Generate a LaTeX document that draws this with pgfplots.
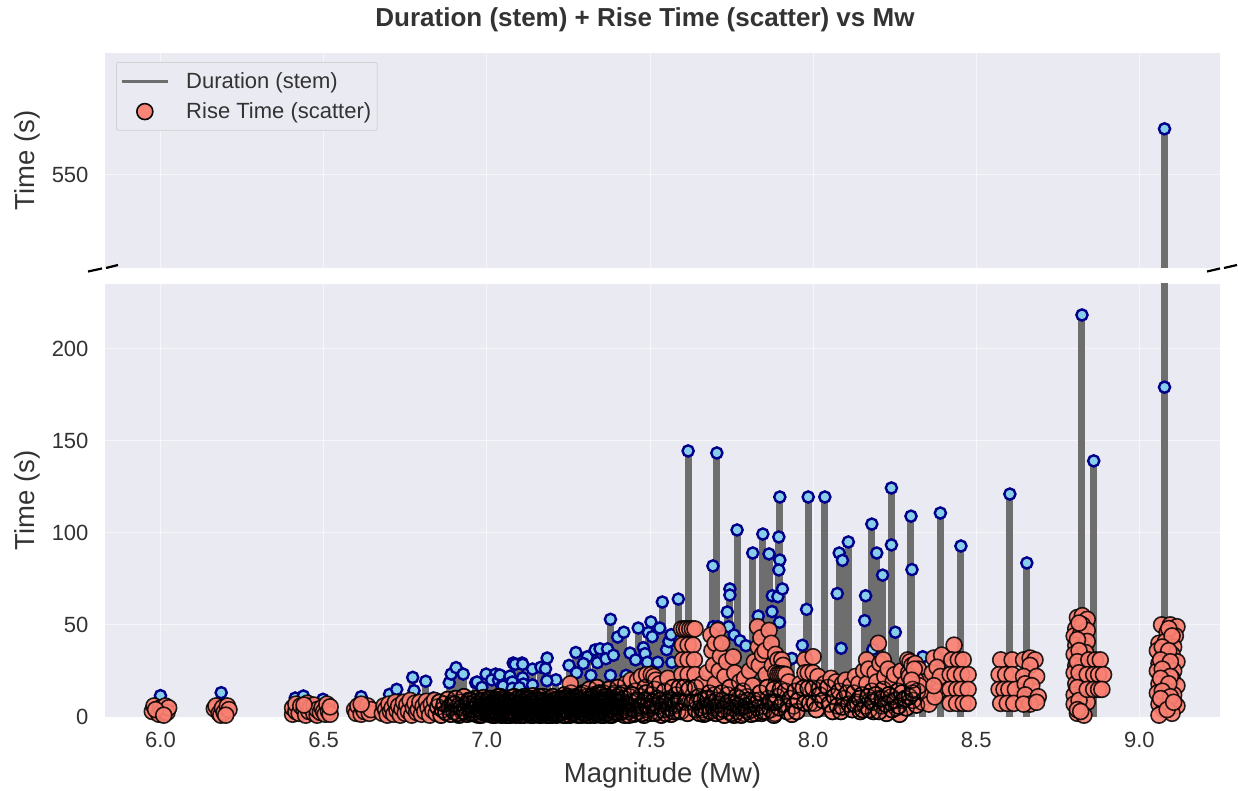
\documentclass[border=0pt]{standalone}
\usepackage{pgfplots}
\pgfplotsset{compat=1.18}
\usepackage{pgfplotstable}
\usepackage{fontspec}
\setmainfont{Liberation Sans}
\definecolor{bgc}{HTML}{EAEAF2}
\definecolor{stemc}{HTML}{6E6E6E}
\definecolor{salm}{HTML}{FA8072}
\definecolor{skyb}{HTML}{87CEEB}
\definecolor{navyb}{HTML}{00008B}
\definecolor{txt}{HTML}{333333}

\pgfplotstableread[row sep=\\]{
x y\\
6.0 11.6\\ 6.186 13.2\\ 6.413 10.3\\ 6.438 11.4\\ 6.498 9.6\\ 6.615 11\\ 6.702 12.3\\ 6.724 15\\ 6.773 21.5\\ 6.777 14.3\\ 6.813 19.4\\ 6.836 10.3\\
6.885 18.6\\ 6.891 23.3\\ 6.906 26.8\\ 6.928 23.3\\ 6.966 18.6\\ 6.97 19\\ 6.985 16.1\\ 6.998 23.3\\ 7.027 23.3\\ 7.015 20.1\\ 7.036 20\\ 7.04 22.8\\ 7.046 16.8\\ 7.05 16.8\\
7.081 29.3\\ 7.108 29.3\\ 7.14 26\\ 7.087 28.6\\ 7.11 28.6\\ 7.11 21.3\\ 7.112 17.9\\ 7.071 22.2\\ 7.078 19\\ 7.078 15.6\\ 7.1 16\\ 7.14 17.4\\
7.212 20.2\\ 7.184 19.7\\ 7.185 32\\ 7.166 27\\ 7.18 26.2\\ 7.252 28\\ 7.273 35\\ 7.275 24\\ 7.308 32.7\\ 7.296 29\\ 7.319 22.6\\ 7.332 36.4\\ 7.339 29.5\\ 7.347 37\\ 7.37 37\\ 7.365 31.6\\ 7.388 33.5\\ 7.379 22.6\\ 7.379 53\\ 7.401 43.4\\ 7.42 46\\ 7.427 22.6\\
7.439 34.7\\ 7.456 31\\ 7.464 48.3\\ 7.48 37.6\\ 7.485 34.4\\ 7.492 29.7\\ 7.495 45.8\\ 7.503 51.6\\ 7.507 43.6\\ 7.524 29.7\\ 7.53 48.3\\ 7.538 62.4\\ 7.551 36.5\\ 7.558 40.9\\ 7.565 44.7\\ 7.567 29.7\\ 7.587 64\\
7.617 144.4\\ 7.705 143.3\\ 7.693 82\\ 7.694 49\\ 7.708 49\\ 7.737 57\\ 7.741 49\\ 7.745 69.5\\ 7.745 66.2\\ 7.758 44.5\\ 7.767 101.5\\ 7.776 41.4\\ 7.794 38.7\\ 7.815 89\\ 7.832 54.8\\ 7.846 99.3\\ 7.865 88.5\\ 7.874 57.2\\ 7.875 65.8\\ 7.892 65.3\\ 7.895 97.7\\ 7.898 119.4\\ 7.898 85.2\\ 7.895 79.8\\ 7.906 69.5\\ 7.897 51.4\\ 7.929 31.3\\ 7.935 31.8\\
7.967 38.9\\ 7.98 58.4\\ 7.985 119.4\\ 8.036 119.4\\ 8.074 67\\ 8.08 89\\ 8.086 37.3\\ 8.09 85\\ 8.108 95\\ 8.158 52.3\\ 8.161 65.8\\ 8.18 104.7\\ 8.183 36.7\\ 8.195 89\\ 8.213 77\\ 8.24 124.3\\ 8.24 93.4\\ 8.252 46\\ 8.30 109\\ 8.303 80\\ 8.336 32.7\\ 8.39 110.7\\ 8.453 92.8\\ 8.603 121\\ 8.655 83.6\\ 8.824 218.2\\ 8.86 139\\ 9.077 179\\ 9.077 574\\
}\durtable

\pgfplotstableread[row sep=\\]{
x y\\
5.975 3\\ 5.98 6\\ 5.995 1.5\\ 6.0 5\\ 6.005 3\\ 6.015 6\\ 6.02 2.5\\ 6.025 5\\ 5.985 4\\ 6.01 1\\
6.165 4.5\\ 6.17 6\\ 6.18 2\\ 6.185 1\\ 6.19 5\\ 6.195 2.5\\ 6.205 6\\ 6.21 4\\ 6.2 1\\
6.405 1.5\\ 6.405 5\\ 6.415 3\\ 6.415 7\\ 6.425 2\\ 6.43 6\\ 6.44 4\\ 6.445 1\\ 6.45 7.5\\ 6.455 3\\ 6.46 5.5\\ 6.47 2\\ 6.47 6.5\\ 6.48 1\\ 6.48 4\\ 6.49 2.5\\ 6.495 5\\ 6.50 3\\ 6.505 1.5\\ 6.51 7\\ 6.515 3\\ 6.52 1.5\\ 6.52 5.5\\ 6.44 6.5\\
6.595 4\\ 6.6 2\\ 6.605 6\\ 6.615 1.5\\ 6.62 5\\ 6.625 3\\ 6.635 6\\ 6.64 2\\ 6.645 4\\ 6.615 7\\
6.68 2\\ 6.685 6\\ 6.69 4\\ 6.695 1\\ 6.70 7\\ 6.705 3\\ 6.71 5\\ 6.715 1.5\\ 6.72 8\\ 6.725 3.5\\ 6.73 6\\ 6.735 1\\ 6.74 4.5\\ 6.745 8\\ 6.75 2\\ 6.755 6.5\\ 6.76 3\\ 6.765 9\\ 6.77 1\\ 6.775 5\\ 6.78 7.5\\ 6.785 2.5\\ 6.79 4\\ 6.795 8\\ 6.80 1.5\\ 6.805 6\\ 6.81 3\\ 6.815 8.5\\ 6.82 5\\ 6.825 1\\ 6.83 7\\ 6.835 3.5\\ 6.84 9\\ 6.845 2\\ 6.85 5.5\\ 6.855 8\\ 6.86 1\\ 6.865 4\\ 6.87 7\\ 6.875 2.5\\ 6.88 9.5\\ 6.885 5\\ 6.89 1.5\\ 6.895 7.5\\ 6.90 3\\ 6.905 10\\ 6.91 5.5\\ 6.915 1\\ 6.92 8\\ 6.925 3\\ 6.93 11\\ 6.935 6\\ 6.94 1.5\\ 6.945 9\\ 6.95 4\\ 6.955 7\\ 6.96 2\\ 6.965 10\\ 6.97 5\\ 6.975 1\\ 6.98 8\\ 6.985 3\\ 6.99 10.5\\ 6.995 6\\
6.902 7\\ 6.912 2\\ 6.922 5\\ 6.932 3\\ 6.942 7\\ 6.952 2\\ 6.962 6\\ 6.972 3\\ 6.982 6\\ 6.992 2\\
6.952 9\\ 6.957 4\\ 6.963 8\\ 6.968 1.5\\ 6.973 7\\ 6.978 4\\ 6.983 1\\ 6.988 9\\ 6.993 5\\ 6.998 8\\
7.002 2\\ 7.006 7\\ 7.01 4\\ 7.014 10\\ 7.018 1\\ 7.022 6\\ 7.026 3\\ 7.03 9\\ 7.034 5\\ 7.038 1.5\\ 7.042 11\\ 7.046 3.5\\ 7.05 7\\ 7.054 2\\ 7.058 9.5\\ 7.062 5\\ 7.066 1\\ 7.07 8\\ 7.074 3\\ 7.078 10.5\\ 7.082 6\\ 7.086 2\\ 7.09 9\\ 7.094 4\\ 7.098 7.5\\
7.004 5\\ 7.012 8\\ 7.02 2.5\\ 7.028 6\\ 7.036 11\\ 7.044 1\\ 7.052 4.5\\ 7.06 8\\ 7.068 3\\ 7.076 6\\ 7.084 11\\ 7.092 1.5\\ 7.1 5\\
7.003 9\\ 7.009 1.5\\ 7.016 6.5\\ 7.024 9.5\\ 7.031 3\\ 7.039 7\\ 7.047 9\\ 7.055 5\\ 7.063 2.5\\ 7.071 5.5\\ 7.079 1.5\\ 7.087 8\\ 7.095 10\\
7.005 3\\ 7.008 10\\ 7.013 2\\ 7.017 7\\ 7.021 4\\ 7.025 1\\ 7.029 8\\ 7.033 2\\ 7.037 5\\ 7.041 8\\ 7.045 2\\ 7.049 10\\ 7.053 6\\ 7.057 1\\ 7.061 3.5\\ 7.065 9\\ 7.069 6\\ 7.073 1\\ 7.077 8\\ 7.081 3\\ 7.085 5\\ 7.089 1\\ 7.093 7\\ 7.097 3\\
7.102 1\\ 7.106 8\\ 7.11 3.5\\ 7.114 11\\ 7.118 6\\ 7.122 2\\ 7.126 9\\ 7.13 4.5\\ 7.134 1\\ 7.138 7\\ 7.142 11.5\\ 7.146 3\\ 7.15 6\\ 7.154 1.5\\ 7.158 9\\ 7.162 4\\ 7.166 7.5\\ 7.17 2\\ 7.174 11\\ 7.178 5\\ 7.182 1\\ 7.186 8\\ 7.19 3\\ 7.194 10\\ 7.198 6\\
7.104 5\\ 7.112 1.5\\ 7.12 9\\ 7.128 3\\ 7.136 5.5\\ 7.144 8\\ 7.152 2\\ 7.16 11\\ 7.168 4\\ 7.176 8\\ 7.184 2.5\\ 7.192 6\\ 7.2 1\\
7.101 7\\ 7.108 10\\ 7.116 3\\ 7.124 6\\ 7.132 10\\ 7.14 2\\ 7.148 10\\ 7.156 5\\ 7.164 1\\ 7.172 6\\ 7.18 9\\ 7.188 4\\ 7.196 2\\
7.103 3\\ 7.107 5\\ 7.111 8\\ 7.115 1\\ 7.119 4\\ 7.123 10\\ 7.127 6\\ 7.131 2\\ 7.135 8\\ 7.139 4\\ 7.143 1\\ 7.147 7\\ 7.151 9\\ 7.155 3\\ 7.159 6\\ 7.163 1\\ 7.167 3\\ 7.171 9\\ 7.175 5\\ 7.179 2\\ 7.183 7\\ 7.187 3\\ 7.191 1\\ 7.195 8\\ 7.199 4\\
7.202 11\\ 7.206 3\\ 7.21 7\\ 7.214 1\\ 7.218 5\\ 7.222 10\\ 7.226 2.5\\ 7.23 8\\ 7.234 4\\ 7.238 12\\ 7.242 1\\ 7.246 6\\ 7.25 3\\ 7.254 9\\ 7.258 13\\ 7.262 2\\ 7.266 5\\ 7.27 8\\ 7.274 1.5\\ 7.278 11\\ 7.282 4\\ 7.286 7\\ 7.29 1\\ 7.294 13\\ 7.298 5.5\\
7.204 5\\ 7.212 9\\ 7.22 1.5\\ 7.228 6\\ 7.236 3\\ 7.244 9\\ 7.252 1.5\\ 7.26 7\\ 7.268 11\\ 7.276 4\\ 7.284 9\\ 7.292 3\\ 7.3 7\\ 7.256 18\\
7.208 7\\ 7.216 2\\ 7.224 6\\ 7.232 10\\ 7.24 4\\ 7.248 11\\ 7.256 5\\ 7.264 9\\ 7.272 3\\ 7.28 6\\ 7.288 12\\ 7.296 8\\
7.203 2\\ 7.207 9\\ 7.211 4\\ 7.215 7\\ 7.219 2\\ 7.223 6\\ 7.227 9\\ 7.231 3\\ 7.235 1\\ 7.239 7\\ 7.243 10\\ 7.247 4\\ 7.251 7\\ 7.255 1\\ 7.259 4\\ 7.263 10\\ 7.267 2\\ 7.271 6\\ 7.275 10\\ 7.279 1\\ 7.283 7\\ 7.287 3\\ 7.291 9\\ 7.295 5\\ 7.299 2\\
7.302 2\\ 7.306 11\\ 7.31 5\\ 7.314 15\\ 7.318 1\\ 7.322 8\\ 7.326 12\\ 7.33 3\\ 7.334 6\\ 7.338 16\\ 7.342 1.5\\ 7.346 10\\ 7.35 4\\ 7.354 7\\ 7.358 13\\ 7.362 2\\ 7.366 5.5\\ 7.37 9\\ 7.374 15\\ 7.378 1\\ 7.382 7\\ 7.386 12\\ 7.39 3\\ 7.394 9\\ 7.398 5\\
7.304 7\\ 7.312 3\\ 7.32 11\\ 7.328 6\\ 7.336 2\\ 7.344 13\\ 7.352 8\\ 7.36 1\\ 7.368 11\\ 7.376 4\\ 7.384 2\\ 7.392 13\\ 7.4 6\\
7.308 9\\ 7.316 5\\ 7.324 2\\ 7.332 9\\ 7.34 4\\ 7.348 7\\ 7.356 3\\ 7.364 9\\ 7.372 6\\ 7.38 4\\ 7.388 10\\ 7.396 2\\
7.303 5\\ 7.307 1\\ 7.311 8\\ 7.315 3\\ 7.319 6\\ 7.323 10\\ 7.327 4\\ 7.331 1\\ 7.335 9\\ 7.339 6\\ 7.343 3\\ 7.347 12\\ 7.351 1\\ 7.355 9\\ 7.359 5\\ 7.363 11\\ 7.367 2\\ 7.371 7\\ 7.375 4\\ 7.379 10\\ 7.383 1\\ 7.387 6\\ 7.391 8\\ 7.395 3\\ 7.399 11\\
7.402 16\\ 7.406 2\\ 7.41 9\\ 7.414 5\\ 7.418 13\\ 7.422 1\\ 7.426 18\\ 7.43 7\\ 7.434 3\\ 7.438 11\\ 7.442 20\\ 7.446 5\\ 7.45 1.5\\ 7.454 14\\ 7.458 8\\ 7.462 20\\ 7.466 3\\ 7.47 11\\ 7.474 22\\ 7.478 6\\ 7.482 1\\ 7.486 16\\ 7.49 23\\ 7.494 4\\ 7.498 9\\
7.408 12\\ 7.424 4\\ 7.44 8\\ 7.456 2\\ 7.472 5\\ 7.488 13\\ 7.504 23\\ 7.512 22\\ 7.518 20\\ 7.5 2\\ 7.506 12\\ 7.51 6\\ 7.515 15\\ 7.52 3\\ 7.525 10\\ 7.53 18\\ 7.535 1\\ 7.54 7\\ 7.545 14\\ 7.55 4\\ 7.555 21\\ 7.56 10\\ 7.565 1.5\\ 7.57 16\\ 7.575 6\\ 7.58 12\\ 7.585 3\\
7.404 8\\ 7.412 3\\ 7.42 10\\ 7.428 6\\ 7.436 1\\ 7.444 12\\ 7.452 4\\ 7.46 9\\ 7.468 6\\ 7.476 2\\ 7.484 9\\ 7.492 6\\ 7.502 5\\ 7.508 8\\ 7.516 2\\ 7.524 6\\ 7.532 9\\ 7.538 4\\ 7.548 2\\ 7.552 8\\ 7.558 5\\ 7.568 9\\ 7.572 3\\ 7.578 7\\ 7.588 9\\
7.597 47.8\\ 7.605 47.8\\ 7.613 47.8\\ 7.622 47.8\\ 7.63 47.8\\ 7.638 47.8\\ 7.6 39\\ 7.617 39\\ 7.632 39\\ 7.6 31\\ 7.617 31\\ 7.636 31\\ 7.598 23\\ 7.617 23\\ 7.638 23\\ 7.59 16\\ 7.605 16\\ 7.62 15\\ 7.64 16\\ 7.592 8\\ 7.61 8\\ 7.63 8\\ 7.595 3\\ 7.615 2\\ 7.64 4\\ 7.65 11\\ 7.655 5\\ 7.66 18\\ 7.665 1.5\\ 7.67 10\\ 7.675 24\\ 7.68 6\\
7.645 8\\ 7.652 2\\ 7.658 9\\ 7.662 4\\ 7.668 6\\ 7.672 2\\ 7.678 10\\ 7.682 13\\ 7.685 3\\ 7.69 8\\ 7.695 5\\ 7.698 12\\ 7.702 2\\ 7.71 7\\ 7.714 3\\ 7.722 9\\ 7.728 1\\ 7.732 6\\ 7.738 12\\ 7.742 3\\ 7.748 8\\ 7.752 5\\ 7.758 1\\ 7.762 7\\ 7.768 3\\ 7.772 10\\ 7.778 5\\ 7.782 8\\ 7.788 2\\ 7.792 6\\ 7.798 11\\ 7.802 3\\ 7.808 7\\ 7.812 4\\ 7.818 9\\ 7.822 2\\ 7.828 5\\ 7.834 9\\ 7.842 2\\ 7.85 6\\ 7.858 3\\ 7.862 10\\ 7.87 4\\ 7.878 8\\ 7.882 2\\
7.687 44.5\\ 7.69 36\\ 7.695 28\\ 7.7 40\\ 7.7 18\\ 7.705 9\\ 7.708 47\\ 7.712 25\\ 7.716 33\\ 7.72 40\\ 7.72 13\\ 7.725 4\\ 7.73 22\\ 7.735 30\\ 7.74 8\\ 7.745 16\\ 7.75 2\\ 7.755 32.6\\ 7.76 24\\ 7.765 11\\ 7.77 6\\ 7.775 19\\ 7.78 1\\ 7.785 14\\ 7.79 21\\ 7.795 4\\ 7.8 9\\ 7.805 25\\ 7.81 1.5\\ 7.815 17\\ 7.82 30\\ 7.825 7\\
7.83 49\\ 7.832 38\\ 7.835 28\\ 7.838 13\\ 7.84 43\\ 7.845 34\\ 7.848 3\\ 7.853 36\\ 7.856 23\\ 7.86 16\\ 7.865 47\\ 7.868 8\\ 7.872 40\\ 7.875 28\\ 7.88 1\\ 7.885 34\\ 7.888 19\\ 7.89 11\\ 7.892 31\\ 7.896 5\\ 7.904 31\\ 7.908 28\\ 7.885 24\\ 7.892 23.3\\ 7.898 23.3\\ 7.904 23.3\\ 7.91 23.3\\ 7.916 23\\ 7.88 15\\ 7.9 15\\ 7.915 14\\ 7.885 8\\ 7.905 7\\ 7.92 3\\ 7.925 19\\ 7.93 10\\ 7.935 1.5\\ 7.94 6\\ 7.945 14\\ 7.95 3\\ 7.955 9\\ 7.96 18\\
7.975 31\\ 8.0 32.7\\ 7.975 24\\ 7.985 24\\ 8.0 24\\ 7.97 15.6\\ 7.985 15.6\\ 8.0 15.6\\ 7.975 7.5\\ 7.99 7.5\\ 8.005 7.5\\ 8.02 15.7\\ 8.02 12\\ 8.015 22\\ 8.01 4\\ 8.03 9\\ 8.035 18\\
8.045 16\\ 8.05 7\\ 8.055 21\\ 8.06 3\\ 8.065 11\\ 8.07 19\\ 8.075 6\\ 8.08 14\\ 8.085 3\\ 8.09 18\\ 8.09 5.5\\ 8.095 10\\ 8.1 20\\ 8.105 13\\ 8.11 7\\ 8.115 17\\ 8.12 4\\
8.125 13\\ 8.13 22\\ 8.135 8\\ 8.14 18\\ 8.145 3\\ 8.15 12\\ 8.155 25\\ 8.16 6\\ 8.164 31\\ 8.165 18\\ 8.17 26\\ 8.175 9\\ 8.18 14\\ 8.185 3\\ 8.19 24\\ 8.195 19\\ 8.2 40\\ 8.2 10\\ 8.205 29\\ 8.21 6\\ 8.215 31\\ 8.215 15\\ 8.22 22\\ 8.225 2\\ 8.23 26\\ 8.235 8\\ 8.24 11\\ 8.245 19\\ 8.25 23\\ 8.255 5\\ 8.26 14\\ 8.265 1.5\\ 8.27 25\\ 8.275 9\\ 8.28 18\\ 8.285 5\\
8.29 31\\ 8.293 24\\ 8.297 30\\ 8.3 17\\ 8.303 28\\ 8.306 9\\ 8.31 23\\ 8.313 29\\ 8.317 6.5\\ 8.32 14\\ 8.323 26\\ 8.33 19\\ 8.335 8\\ 8.34 19\\ 8.345 13\\ 8.35 11\\ 8.355 7\\
8.128 7\\ 8.142 10\\ 8.152 4\\ 8.168 11\\ 8.172 4\\ 8.182 8\\ 8.192 12\\ 8.202 3\\ 8.212 10\\ 8.222 7\\ 8.232 12\\ 8.242 4\\ 8.252 9\\ 8.262 6\\ 8.272 13\\ 8.282 10\\ 8.295 11\\ 8.305 15\\ 8.315 20\\ 8.325 17\\ 8.305 13\\ 8.295 22\\ 8.31 26\\ 8.302 20\\
8.37 32\\ 8.394 33.6\\ 8.388 14.7\\ 8.373 10.9\\ 8.365 24\\ 8.38 27\\ 8.39 22\\ 8.37 17\\
8.432 39\\ 8.425 31\\ 8.445 31\\ 8.46 31\\ 8.42 23\\ 8.435 23\\ 8.455 23\\ 8.475 23\\ 8.42 15\\ 8.44 15\\ 8.455 15\\ 8.475 15\\ 8.42 7.4\\ 8.44 7.4\\ 8.46 7.4\\ 8.475 7.4\\
8.575 31\\ 8.61 31\\ 8.57 23\\ 8.59 23\\ 8.61 23\\ 8.57 15\\ 8.585 15\\ 8.6 15\\ 8.62 15\\ 8.575 7.4\\ 8.595 7.4\\ 8.615 7.4\\
8.645 31\\ 8.665 32\\ 8.68 31\\ 8.665 28\\ 8.645 22\\ 8.685 22\\ 8.65 18\\ 8.67 17\\ 8.65 12\\ 8.69 11\\ 8.665 7\\ 8.645 7\\ 8.685 8\\
8.81 54\\ 8.825 55\\ 8.84 53\\ 8.805 48\\ 8.825 50\\ 8.8 44\\ 8.82 45\\ 8.84 47\\ 8.805 39\\ 8.825 38\\ 8.84 41\\ 8.8 34\\ 8.82 33\\ 8.835 35\\ 8.805 28\\ 8.825 27\\ 8.8 24\\ 8.82 20\\ 8.805 18\\ 8.825 15\\ 8.8 12\\ 8.82 11\\ 8.8 7\\ 8.825 6\\ 8.84 8\\ 8.81 2\\ 8.83 1\\
8.815 51\\ 8.81 42\\ 8.815 36\\ 8.81 30\\ 8.815 24\\ 8.81 16\\ 8.815 9\\ 8.81 4\\ 8.82 3\\
8.845 31\\ 8.865 31\\ 8.88 31\\ 8.84 23\\ 8.86 23\\ 8.875 23\\ 8.89 23\\ 8.84 15\\ 8.86 15\\ 8.875 15\\ 8.885 15\\
9.068 50\\ 9.095 50\\ 9.115 49\\ 9.085 46\\ 9.11 44\\ 9.06 40\\ 9.08 41\\ 9.105 38\\ 9.055 36\\ 9.075 33\\ 9.1 34\\ 9.115 30\\ 9.06 29\\ 9.085 28\\ 9.105 25\\ 9.055 25\\ 9.075 20\\ 9.1 21\\ 9.06 18\\ 9.115 17\\ 9.085 15\\ 9.055 13\\ 9.105 12\\ 9.075 10\\ 9.06 7\\ 9.09 7\\ 9.115 6\\ 9.075 4\\ 9.1 2\\ 9.06 1\\
9.09 48\\ 9.1 44\\ 9.07 38\\ 9.09 36\\ 9.065 31\\ 9.095 30\\ 9.07 26\\ 9.095 22\\ 9.065 21\\ 9.09 18\\ 9.07 14\\ 9.095 11\\ 9.065 10\\ 9.085 4\\ 9.105 8\\
}\risetable

\pgfplotsset{
  common/.style={
    scale only axis, width=1115pt, xmin=5.83, xmax=9.247,
    axis background/.style={fill=bgc},
    axis line style={draw=none},
    tick style={draw=none},
    grid=major,
    major grid style={white, line width=0.8pt, opacity=0.6},
    tick label style={font=\fontsize{22}{26}\selectfont, text=txt},
    label style={font=\fontsize{27.5}{32}\selectfont, text=txt},
    xtick={6,6.5,7,7.5,8,8.5,9},
    clip=true,
    yticklabel style={xshift=-13pt},
    xticklabel style={yshift=-12pt},
    ylabel style={at={(axis description cs:0,0.5)}, anchor=center, yshift=78pt},
  },
  stem/.style={ycomb, draw=stemc, line width=7pt},
  blue/.style={only marks, mark=*, mark size=5.6pt, mark options={fill=skyb, draw=navyb, line width=2.4pt}},
  sal/.style={only marks, mark=*, mark size=8pt, mark options={fill=salm, draw=black, line width=1.6pt, fill opacity=0.92, draw opacity=0.85}},
  edges/.style={only marks, mark=o, mark size=8pt, mark options={draw=black, line width=1.5pt, draw opacity=0.75}},
}

\begin{document}
\begin{tikzpicture}[x=1pt,y=1pt]
\path[use as bounding box] (0pt,0pt) rectangle (1238pt,790pt);

\begin{axis}[common, at={(105pt,522pt)}, anchor=south west, height=215pt,
  ymin=500.8, ymax=613.9, ytick={550}, xticklabels={},
  ylabel={Time (s)},
  /pgf/number format/assume math mode=true,
  yticklabel style={/pgf/number format/fixed},
  title={\fontsize{26}{30}\selectfont\bfseries Duration (stem) + Rise Time (scatter) vs Mw},
  title style={at={(axis description cs:0.4843,1)}, anchor=south, yshift=12pt, text=txt},
  legend style={at={(0.0099,0.958)}, anchor=north west, fill=bgc, fill opacity=0.85, text opacity=1, draw=black!18, rounded corners=2pt, font=\fontsize{22}{26}\selectfont, text=txt, cells={anchor=west}, inner xsep=4pt, inner ysep=8pt, row sep=9pt, line width=0.8pt},
  legend cell align=left,
]
\addplot[stem, forget plot] coordinates {(9.077,574)};
\addplot[blue, forget plot] coordinates {(9.077,574)};
\addlegendimage{legend image code/.code={\draw[stemc, line width=2.8pt] (0pt,0pt) -- (46pt,0pt); \path (62pt,0pt);}}
\addlegendentry{Duration (stem)}
\addlegendimage{legend image code/.code={\draw[fill=salm, draw=black, line width=1.6pt, opacity=0.95] (23pt,0pt) circle (8pt); \path (0pt,0pt) (62pt,0pt);}}
\addlegendentry{Rise Time (scatter)}
\end{axis}

\begin{axis}[common, at={(105pt,73pt)}, anchor=south west, height=433pt,
  ymin=0, ymax=235, ytick={0,50,100,150,200},
  xlabel={Magnitude (Mw)}, ylabel={Time (s)},
  /pgf/number format/assume math mode=true,
  xticklabel style={/pgf/number format/fixed, /pgf/number format/fixed zerofill, /pgf/number format/precision=1},
  xlabel style={yshift=-8pt},
]
\addplot[stem] table {\durtable};
\addplot[blue] table {\durtable};
\addplot[sal] table {\risetable};
\addplot[edges, restrict x to domain=6.85:8.32, restrict y to domain=0:16] table {\risetable};
\end{axis}

\draw[black, line width=2.2pt] (88pt,518.5pt) -- (102pt,521.5pt);
\draw[black, line width=2.2pt] (106pt,522pt) -- (118pt,525pt);
\draw[black, line width=2.2pt] (1207pt,518.5pt) -- (1220pt,521.5pt);
\draw[black, line width=2.2pt] (1224pt,522pt) -- (1237pt,525pt);
\end{tikzpicture}
\end{document}
